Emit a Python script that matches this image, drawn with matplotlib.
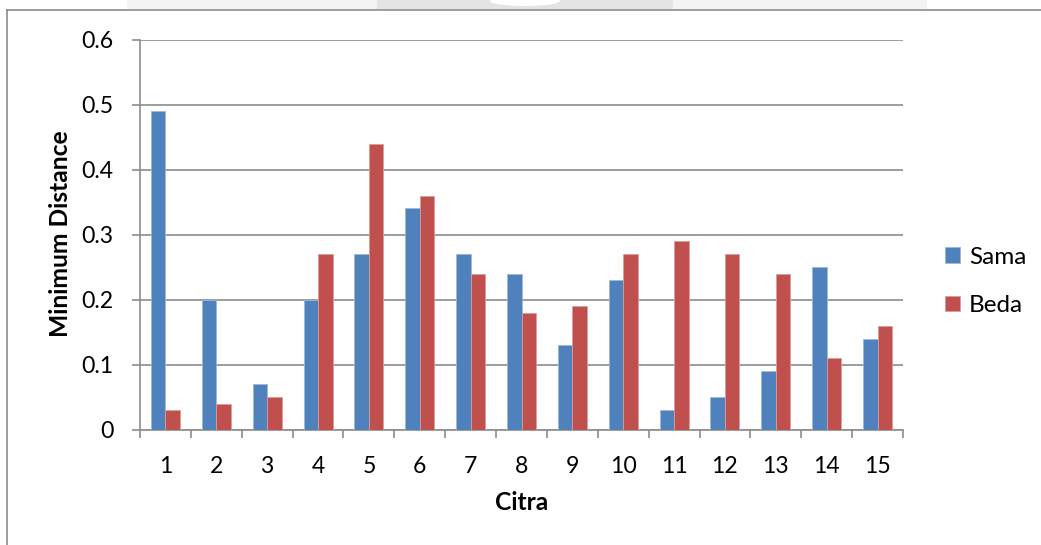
import matplotlib
matplotlib.use("Agg")
import matplotlib.pyplot as plt
from matplotlib.patches import Rectangle, Ellipse
import numpy as np

categories = [str(i) for i in range(1, 16)]
sama = [0.49, 0.20, 0.07, 0.20, 0.27, 0.34, 0.27, 0.24, 0.13, 0.23, 0.03, 0.05, 0.09, 0.25, 0.14]
beda = [0.03, 0.04, 0.05, 0.27, 0.44, 0.36, 0.24, 0.18, 0.19, 0.27, 0.29, 0.27, 0.24, 0.11, 0.16]
yticks = [0, 0.1, 0.2, 0.3, 0.4, 0.5, 0.6]
ytick_labels = ["0", "0.1", "0.2", "0.3", "0.4", "0.5", "0.6"]

plt.rcParams['font.family'] = ['Lato', 'DejaVu Sans']

W, H = 1041, 545
fig = plt.figure(figsize=(W / 100, H / 100), dpi=100)

# page decorations: chart border and faint shape at top
fig.add_artist(Rectangle((127 / W, 1 - 9 / H), 800 / W, 9 / H, transform=fig.transFigure,
                         facecolor="#f4f4f4", edgecolor="none"))
fig.add_artist(Rectangle((377 / W, 1 - 9 / H), 296 / W, 9 / H, transform=fig.transFigure,
                         facecolor="#e4e4e4", edgecolor="none"))
fig.add_artist(Ellipse((525 / W, 1 - 1 / H), 70 / W, 10 / H, transform=fig.transFigure,
                       facecolor="#ffffff", edgecolor="none"))
fig.add_artist(plt.Line2D([7 / W, 1], [1 - 10 / H, 1 - 10 / H], transform=fig.transFigure,
                          color="#8c8c8c", lw=1.2))
fig.add_artist(plt.Line2D([7 / W, 7 / W], [0, 1 - 10 / H], transform=fig.transFigure,
                          color="#8c8c8c", lw=1.2))

x0, x1 = 140, 903
ytop, ybot = 39.5, 429.5
ax = fig.add_axes([x0 / W, 1 - ybot / H, (x1 - x0) / W, (ybot - ytop) / H])

x = np.arange(len(categories))
bw = 0.285
ax.bar(x - bw / 2, sama, width=bw, color="#4F81BD", edgecolor="#9db7dc", linewidth=0.6, label="Sama", zorder=3)
ax.bar(x + bw / 2, beda, width=bw, color="#C0504D", edgecolor="#dc9c9a", linewidth=0.6, label="Beda", zorder=3)

ax.set_xlim(-0.5, len(categories) - 0.5)
ax.set_ylim(0, 0.6)
ax.set_yticks(yticks)
ax.set_yticklabels(ytick_labels)
ax.yaxis.grid(True, color="#8c8c8c", linewidth=1.2, zorder=0)
ax.set_axisbelow(True)

ax.set_xticks(x)
ax.set_xticklabels(categories)
ax.set_xticks(np.arange(-0.5, len(categories)), minor=True)
ax.tick_params(axis='x', which='major', length=0, pad=19, labelsize=16.6)
ax.tick_params(axis='x', which='minor', length=6, width=1.2, color="#8c8c8c", direction='out')
ax.tick_params(axis='y', length=6, width=1.2, color="#8c8c8c", pad=13, labelsize=16.6)

for s in ["top", "right"]:
    ax.spines[s].set_visible(False)
for s in ["left", "bottom"]:
    ax.spines[s].set_color("#8c8c8c")
    ax.spines[s].set_linewidth(1.2)

fig.text((x0 + x1) / 2 / W, 1 - 503 / H, "Citra", ha="center", va="center",
         fontsize=17.7, fontweight="bold")
fig.text(60 / W, 1 - 234 / H, "Minimum Distance", ha="center", va="center",
         rotation=90, fontsize=17.7, fontweight="bold")

leg = fig.legend(loc="center left", bbox_to_anchor=(923.5 / W, 1 - 281.5 / H), frameon=False,
                 fontsize=17.5, handlelength=0.62, handleheight=0.62, handletextpad=0.35,
                 labelspacing=1.12)

fig.savefig("out.png", dpi=100)
